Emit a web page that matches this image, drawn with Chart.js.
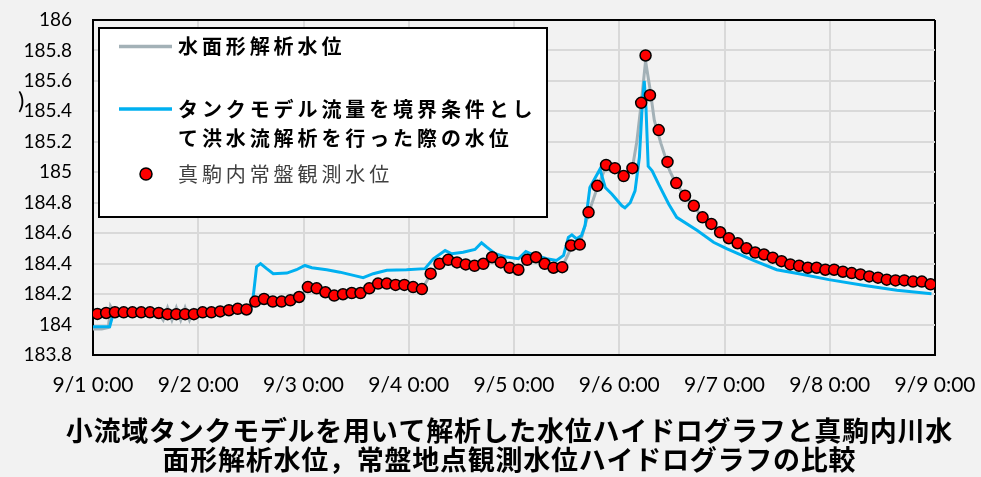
<!DOCTYPE html>
<html lang="ja">
<head>
<meta charset="utf-8">
<title>水位ハイドログラフの比較</title>
<script src="https://cdn.jsdelivr.net/npm/chart.js@4.4.1/dist/chart.umd.min.js"></script>
<style>
  html, body { margin: 0; padding: 0; background: #f2f2f2; }
  #wrap { width: 981px; height: 477px; }
</style>
</head>
<body>
<div id="wrap"><canvas id="hydro" width="981" height="477"></canvas></div>
<script>
/* ------------------------------------------------------------------
   データ（時刻は 9/1 0:00 からの経過時間 [h]、水位 [m]）
------------------------------------------------------------------ */

// 真駒内常盤観測水位（2時間ごと、ピーク付近のみ1時間）
const obsHours = [
  1, 3, 5, 7, 9, 11, 13, 15, 17, 19, 21, 23,
  25, 27, 29, 31, 33, 35, 37, 39, 41, 43, 45, 47,
  49, 51, 53, 55, 57, 59, 61, 63, 65, 67, 69, 71,
  73, 75, 77, 79, 81, 83, 85, 87, 89, 91, 93, 95,
  97, 99, 101, 103, 105, 107, 109, 111, 113, 115, 117, 119,
  121, 123, 125, 126, 127, 129, 131, 133, 135, 137, 139, 141, 143,
  145, 147, 149, 151, 153, 155, 157, 159, 161, 163, 165, 167,
  169, 171, 173, 175, 177, 179, 181, 183, 185, 187, 189, 191
];
const obsLevels = [
  184.07, 184.076, 184.081, 184.08, 184.08, 184.08, 184.08, 184.076, 184.068, 184.068, 184.068, 184.068,
  184.08, 184.08, 184.086, 184.094, 184.103, 184.099, 184.151, 184.168, 184.151, 184.151, 184.159, 184.181,
  184.246, 184.238, 184.212, 184.19, 184.199, 184.207, 184.207, 184.238, 184.269, 184.269, 184.26, 184.26,
  184.246, 184.233, 184.334, 184.399, 184.425, 184.408, 184.395, 184.386, 184.399, 184.442, 184.408, 184.373,
  184.36, 184.425, 184.442, 184.399, 184.373, 184.377, 184.519, 184.525, 184.737, 184.911, 185.048, 185.027,
  184.975, 185.027, 185.456, 185.767, 185.506, 185.277, 185.068, 184.929, 184.846, 184.78, 184.704, 184.661, 184.606,
  184.567, 184.534, 184.501, 184.473, 184.46, 184.439, 184.416, 184.395, 184.386, 184.373, 184.373, 184.36,
  184.36, 184.347, 184.338, 184.329, 184.316, 184.308, 184.295, 184.29, 184.29, 184.282, 184.282, 184.264
];

// 水面形解析水位
const simHours = [
  0, 2, 3.5, 4, 5, 7, 9, 11, 13, 15, 16, 17, 18, 19, 20, 21, 22, 23,
  25, 27, 29, 31, 33, 35, 37, 39, 41, 43, 45, 47,
  49, 51, 53, 55, 57, 59, 61, 63, 65, 67, 69, 71,
  73, 75, 77, 79, 81, 83, 85, 87, 89, 91, 93, 95,
  97, 99, 101, 103, 105, 107, 109, 111, 113, 115, 117, 119,
  121, 123, 124, 125, 126, 127, 128, 129.5, 131.5, 133, 135, 137, 139, 141, 143,
  145, 147, 149, 151, 153, 155, 157, 159, 161, 163, 165, 167,
  169, 171, 173, 175, 177, 179, 181, 183, 185, 187, 189, 191
];
const simLevels = [
  183.97, 183.97, 183.98, 184.12, 184.07, 184.08, 184.08, 184.08, 184.08, 184.07, 184.03, 184.11, 184.03, 184.11, 184.03, 184.11, 184.03, 184.1,
  184.08, 184.08, 184.09, 184.09, 184.1, 184.1, 184.15, 184.17, 184.15, 184.15, 184.16, 184.18,
  184.24, 184.24, 184.21, 184.19, 184.2, 184.21, 184.21, 184.24, 184.27, 184.27, 184.26, 184.26,
  184.25, 184.23, 184.33, 184.4, 184.42, 184.41, 184.4, 184.39, 184.4, 184.44, 184.41, 184.37,
  184.36, 184.42, 184.44, 184.4, 184.37, 184.38, 184.5, 184.53, 184.73, 184.9, 185.04, 185.02,
  184.97, 185.03, 185.2, 185.45, 185.73, 185.55, 185.34, 185.19, 185.01, 184.92, 184.85, 184.78, 184.7, 184.66, 184.6,
  184.57, 184.53, 184.5, 184.47, 184.46, 184.44, 184.42, 184.4, 184.39, 184.37, 184.37, 184.36,
  184.36, 184.35, 184.34, 184.33, 184.32, 184.31, 184.3, 184.29, 184.29, 184.28, 184.28, 184.26
];

// タンクモデル流量を境界条件とした洪水流解析の水位
const tankHours = [
  0, 3.8, 4.5, 10, 20, 30, 36, 36.6, 37.3, 38.2, 39.6, 41.1, 44.2, 46.4, 48.3, 49.9,
  53.3, 56.3, 59.4, 61.6, 63.9, 67, 71.5, 75.7, 77.6, 80.3, 81.8, 84.4, 87.1, 88.6,
  89.8, 91.7, 94.3, 97, 98.7, 100.4, 103.5, 105.7, 107.3, 108.4, 109.2, 110.3, 111.4,
  112.2, 113.3, 115.6, 116.8, 118.3, 120.6, 121.3, 122.5, 123.6, 124.6, 125.2, 125.7,
  126.1, 126.6, 127.5, 129, 131.3, 133.1, 137.8, 141.5, 144.6, 150.6, 155.9, 161,
  167.8, 175.6, 183.3, 191.2
];
const tankLevels = [
  183.985, 183.985, 184.06, 184.07, 184.07, 184.08, 184.1, 184.2, 184.38, 184.4, 184.367, 184.334, 184.338, 184.36, 184.388, 184.373,
  184.36, 184.344, 184.323, 184.308, 184.334, 184.356, 184.36, 184.367, 184.432, 184.486, 184.465, 184.475, 184.493, 184.537,
  184.508, 184.465, 184.443, 184.432, 184.48, 184.458, 184.432, 184.421, 184.454, 184.573, 184.589, 184.563, 184.584,
  184.65, 184.9, 185.02, 184.9, 184.857, 184.78, 184.767, 184.8, 184.878, 185.1, 185.42, 185.6,
  185.42, 185.04, 185.01, 184.92, 184.79, 184.704, 184.617, 184.54, 184.497, 184.421, 184.36, 184.334,
  184.295, 184.258, 184.225, 184.203
];

const dayLabels = ['9/1 0:00', '9/2 0:00', '9/3 0:00', '9/4 0:00', '9/5 0:00',
                   '9/6 0:00', '9/7 0:00', '9/8 0:00', '9/9 0:00'];

const legendLines = [
  ['水面形解析水位'],
  ['タンクモデル流量を境界条件とし', 'て洪水流解析を行った際の水位'],
  ['真駒内常盤観測水位']
];

const titleLines = [
  '小流域タンクモデルを用いて解析した水位ハイドログラフと真駒内川水',
  '面形解析水位，常盤地点観測水位ハイドログラフの比較'
];

const toXY = (hs, vs) => hs.map((h, i) => ({ x: h, y: vs[i] }));

/* ------------------------------------------------------------------
   凡例（枠付き・複数行）
------------------------------------------------------------------ */
const boxLegend = {
  id: 'boxLegend',
  beforeDatasetsDraw(chart) {
    const { ctx, chartArea } = chart;
    const x0 = chartArea.left + 6;
    const y0 = chartArea.top + 8;
    const rowY = [18.5, 81, 146];

    ctx.save();
    ctx.fillStyle = '#ffffff';
    ctx.fillRect(x0, y0, 448, 189);
    ctx.lineWidth = 2;
    ctx.strokeStyle = '#000000';
    ctx.strokeRect(x0, y0, 448, 189);

    ctx.textBaseline = 'middle';
    ctx.letterSpacing = '3.9px';

    chart.data.datasets.forEach((ds, i) => {
      const y = y0 + rowY[i];
      if (ds.showLine === false) {
        ctx.beginPath();
        ctx.arc(x0 + 47, y, 6, 0, Math.PI * 2);
        ctx.fillStyle = ds.pointBackgroundColor;
        ctx.fill();
        ctx.lineWidth = 1.5;
        ctx.strokeStyle = ds.pointBorderColor;
        ctx.stroke();
        ctx.font = '20px "Noto Sans CJK JP"';
        ctx.fillStyle = '#404040';
      } else {
        ctx.beginPath();
        ctx.moveTo(x0 + 20, y);
        ctx.lineTo(x0 + 73, y);
        ctx.lineWidth = 3.5;
        ctx.strokeStyle = ds.borderColor;
        ctx.stroke();
        ctx.font = 'bold 20px "Noto Sans CJK JP"';
        ctx.fillStyle = '#000000';
      }
      legendLines[i].forEach((t, k) => ctx.fillText(t, x0 + 79, y + k * 29));
    });

    // 左端に残る縦書きタイトルの一部
    ctx.letterSpacing = '0px';
    ctx.font = '24px Lato';
    ctx.fillStyle = '#000000';
    ctx.fillText(')', 18, 101);
    ctx.restore();
  }
};

/* ------------------------------------------------------------------
   下部タイトル（2行・行ごとに字間を調整）
------------------------------------------------------------------ */
const bottomTitle = {
  id: 'bottomTitle',
  afterDraw(chart) {
    const ctx = chart.ctx;
    const widths = [887, 694];
    ctx.save();
    ctx.font = 'bold 27px "Noto Sans CJK JP"';
    ctx.fillStyle = '#000000';
    ctx.textAlign = 'center';
    ctx.textBaseline = 'middle';
    titleLines.forEach((t, i) => {
      ctx.letterSpacing = '0px';
      const w = ctx.measureText(t).width;
      const ls = (widths[i] - w) / [...t].length;
      ctx.letterSpacing = ls + 'px';
      ctx.fillText(t, 509 + ls / 2, 431 + i * 29);
    });
    ctx.restore();
  }
};

/* ------------------------------------------------------------------
   グラフ本体
------------------------------------------------------------------ */
new Chart(document.getElementById('hydro'), {
  type: 'line',
  data: {
    datasets: [
      {
        label: '水面形解析水位',
        data: toXY(simHours, simLevels),
        borderColor: '#a3b1b7',
        borderWidth: 3,
        pointRadius: 0,
        tension: 0,
        order: 2
      },
      {
        label: 'タンクモデル流量を境界条件として洪水流解析を行った際の水位',
        data: toXY(tankHours, tankLevels),
        borderColor: '#00b0f0',
        borderWidth: 3,
        pointRadius: 0,
        tension: 0,
        order: 1
      },
      {
        label: '真駒内常盤観測水位',
        data: toXY(obsHours, obsLevels),
        showLine: false,
        pointRadius: 5.5,
        pointBorderWidth: 1.5,
        pointBackgroundColor: '#ff0000',
        pointBorderColor: '#000000',
        order: 0
      }
    ]
  },
  options: {
    responsive: false,
    animation: false,
    layout: { padding: { left: 0, right: 46, top: 20, bottom: 62 } },
    plugins: {
      legend: { display: false },
      tooltip: { enabled: false },
      title: { display: false }
    },
    scales: {
      x: {
        type: 'linear',
        min: 0,
        max: 192,
        afterFit: s => { s.height = 60; s.paddingLeft = 0; s.paddingRight = 0; },
        border: { display: true, color: '#000000', width: 2 },
        grid: {
          drawTicks: false,
          color: c => (c.tick && c.tick.value === 192 ? '#000000' : '#d9d9d9'),
          lineWidth: 2
        },
        ticks: {
          stepSize: 24,
          autoSkip: false,
          maxRotation: 0,
          padding: 18,
          color: '#000000',
          font: { family: 'Lato', size: 21 },
          callback: v => dayLabels[Math.round(v / 24)]
        }
      },
      y: {
        min: 183.8,
        max: 186,
        afterFit: s => { s.width = 93; s.paddingTop = 0; s.paddingBottom = 0; },
        border: { display: true, color: '#000000', width: 2 },
        grid: {
          drawTicks: false,
          color: c => (c.tick && Math.abs(c.tick.value - 186) < 1e-6 ? '#000000' : '#d9d9d9'),
          lineWidth: 2
        },
        ticks: {
          stepSize: 0.2,
          padding: 21,
          color: '#000000',
          font: { family: 'Lato', size: 19 },
          callback: v => String(Number(v.toFixed(1)))
        }
      }
    }
  },
  plugins: [boxLegend, bottomTitle]
});
</script>
</body>
</html>
